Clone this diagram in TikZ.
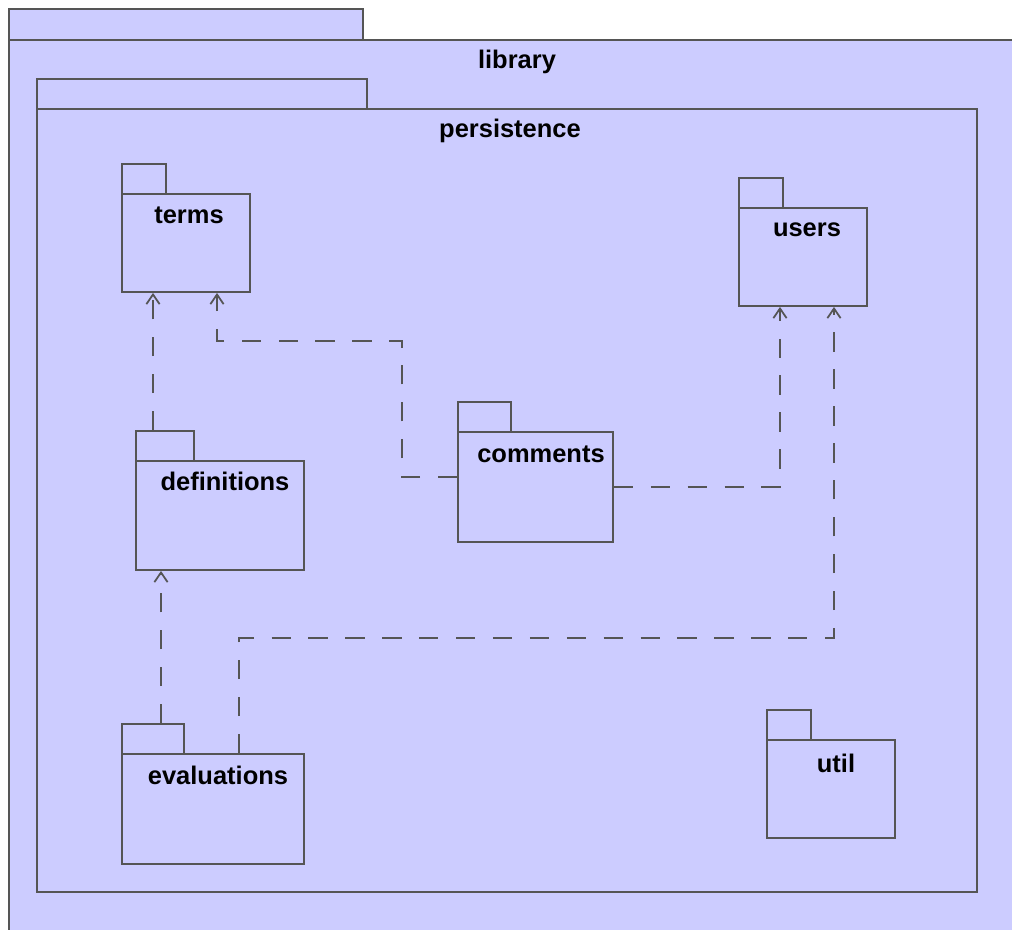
\documentclass[tikz,border=0pt]{standalone}
\usepackage{fontspec}
\setmainfont{Liberation Sans}
\usepackage{tikz}
\usetikzlibrary{arrows.meta,calc}
\definecolor{pkgfill}{HTML}{CCCCFF}
\definecolor{pkgline}{HTML}{555555}

\begin{document}
\begin{tikzpicture}[x=0.02cm,y=-0.02cm,
	pkg/.style={shape=rectangle,draw=pkgline,fill=pkgfill,line width=1.1pt,inner sep=0pt,anchor=north west},
	pkgname/.style={font=\fontsize{14.5}{17}\selectfont\bfseries,inner sep=0pt},
	dep/.style={draw=pkgline,line width=1pt,dash pattern=on 11pt off 10pt,-{Straight Barb[length=5.5pt,width=7.5pt]}}]
	\useasboundingbox (0,0) rectangle (1012,930);
	\clip (0,0) rectangle (1012,930);
	\fill[white] (0,0) rectangle (1012,930);

	% library frame
	\node[pkg,minimum width=7.08cm,minimum height=0.62cm] (librarytab) at (8,8) {};
	\node[pkg,minimum width=20.64cm,minimum height=18.42cm] (library) at (8,39) {};
	\node[pkgname] (librarylabel) at (517,62) {library};

	% persistence frame
	\node[pkg,minimum width=6.6cm,minimum height=0.6cm] (persistencetab) at (36,78) {};
	\node[pkg,minimum width=18.8cm,minimum height=15.66cm] (persistence) at (36,108) {};
	\node[pkgname] (persistencelabel) at (510,131) {persistence};

	% packages
	\node[pkg,minimum width=0.88cm,minimum height=0.6cm] (termstab) at (121,163) {};
	\node[pkg,minimum width=2.56cm,minimum height=1.96cm] (terms) at (121,193) {};
	\node[pkgname] (termslabel) at (189,215) {terms};

	\node[pkg,minimum width=0.88cm,minimum height=0.6cm] (userstab) at (738,177) {};
	\node[pkg,minimum width=2.56cm,minimum height=1.96cm] (users) at (738,207) {};
	\node[pkgname] (userslabel) at (807,230) {users};

	\node[pkg,minimum width=1.16cm,minimum height=0.6cm] (definitionstab) at (135,430) {};
	\node[pkg,minimum width=3.36cm,minimum height=2.18cm] (definitions) at (135,460) {};
	\node[pkgname] (definitionslabel) at (225,481) {definitions};

	\node[pkg,minimum width=1.06cm,minimum height=0.6cm] (commentstab) at (457,401) {};
	\node[pkg,minimum width=3.1cm,minimum height=2.2cm] (comments) at (457,431) {};
	\node[pkgname] (commentslabel) at (541,454) {comments};

	\node[pkg,minimum width=1.24cm,minimum height=0.6cm] (evaluationstab) at (121,723) {};
	\node[pkg,minimum width=3.64cm,minimum height=2.2cm] (evaluations) at (121,753) {};
	\node[pkgname] (evaluationslabel) at (218,775) {evaluations};

	\node[pkg,minimum width=0.88cm,minimum height=0.6cm] (utiltab) at (766,709) {};
	\node[pkg,minimum width=2.56cm,minimum height=1.96cm] (util) at (766,739) {};
	\node[pkgname] (utillabel) at (836,763) {util};

	% dependencies
	\draw[dep] ($(definitionstab.north west)+(18,0)$) coordinate (d1) -- (d1 |- terms.south);
	\draw[dep] ($(comments.north west)+(0,46)$) -| (402,341) -| ($(terms.south west)+(96,0)$);
	\draw[dep] (comments.east) -| ($(users.south west)+(42,0)$);
	\draw[dep] ($(evaluationstab.north west)+(40,0)$) coordinate (e1) -- (e1 |- definitions.south);
	\draw[dep] ($(evaluations.north west)+(118,0)$) -- ++(0,-115) -| ($(users.south west)+(96,0)$);
\end{tikzpicture}
\end{document}
